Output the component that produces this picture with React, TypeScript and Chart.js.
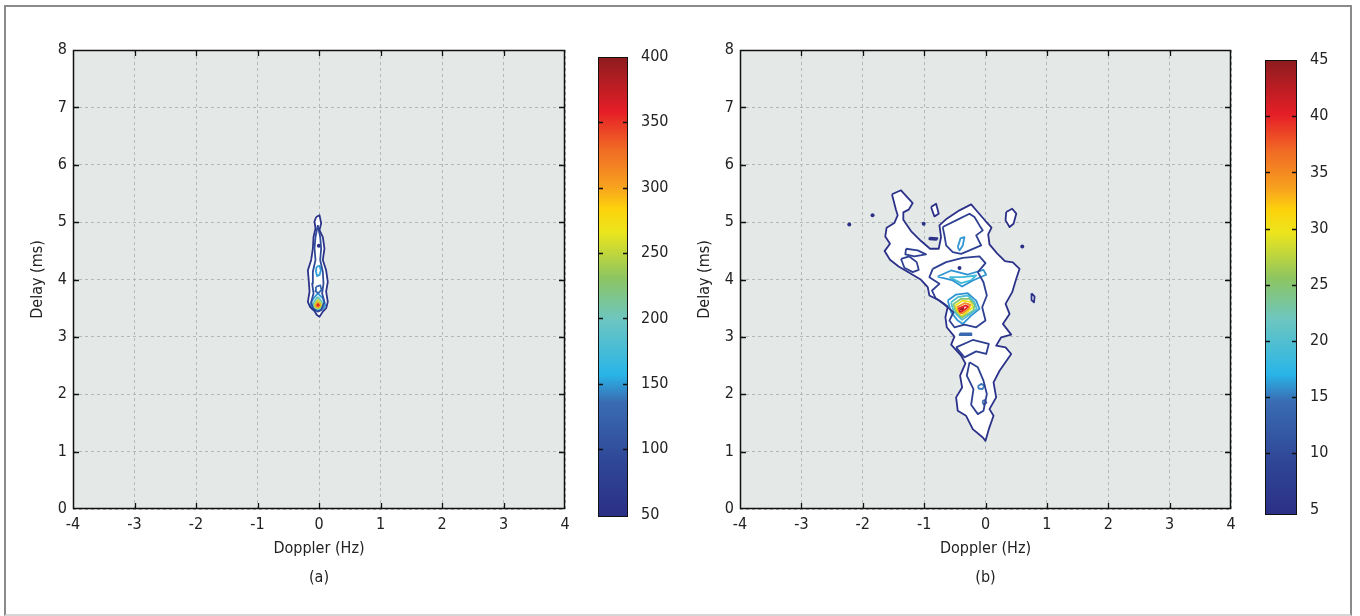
import React, { useEffect, useRef } from 'react';
import { Chart, registerables } from 'chart.js';

Chart.register(...registerables);

type Pt = [number, number];

const FONT = "'Liberation Sans Narrow', 'DejaVu Sans Condensed', 'Arial Narrow', sans-serif";
Chart.defaults.font.family = FONT;

// ---------- axes / ticks ----------
const DOPPLER_TICKS = [-4, -3, -2, -1, 0, 1, 2, 3, 4];
const DELAY_TICKS = [0, 1, 2, 3, 4, 5, 6, 7, 8];
const CBAR_A_TICKS = [50, 100, 150, 200, 250, 300, 350, 400];
const CBAR_A_RANGE: Pt = [48, 400];
const CBAR_B_TICKS = [5, 10, 15, 20, 25, 30, 35, 40, 45];
const CBAR_B_RANGE: Pt = [4.5, 45];

// ---------- colormap ----------
const JET_STOPS = [0, 0.12, 0.25, 0.31, 0.43, 0.52, 0.62, 0.67, 0.72, 0.8, 0.88, 1.0];
const JET_COLORS = ['#2b2f86', '#2f4797', '#3a6cb3', '#29b5e8', '#6dc6c0', '#8dc561', '#ece51c', '#fdd20c', '#f7a01f', '#f16a25', '#e61e27', '#8c1c1f'];

// ---------- panel (a): contour lines [doppler Hz, delay ms] ----------
const A_OUTER_55: Pt[] = [[-0.045, 5.09], [0.008, 5.12], [0.035, 4.98], [0.008, 4.86], [0.062, 4.74], [0.089, 4.54], [0.062, 4.34], [0.116, 4.16], [0.143, 3.96], [0.116, 3.79], [0.143, 3.61], [0.116, 3.5], [0.062, 3.44], [0.008, 3.35], [-0.035, 3.38], [-0.073, 3.45], [-0.143, 3.52], [-0.181, 3.61], [-0.154, 3.79], [-0.165, 3.96], [-0.181, 4.16], [-0.127, 4.34], [-0.1, 4.54], [-0.089, 4.74], [-0.057, 4.89], [-0.073, 5.01]];
const A_INNER_95: Pt[] = [[-0.019, 4.948], [0.019, 4.74], [0.035, 4.54], [0.019, 4.34], [0.062, 4.135], [0.073, 3.932], [0.051, 3.757], [0.089, 3.61], [0.035, 3.467], [-0.019, 3.44], [-0.1, 3.5], [-0.127, 3.61], [-0.089, 3.757], [-0.111, 3.932], [-0.1, 4.135], [-0.057, 4.34], [-0.073, 4.54], [-0.057, 4.74]];
const A_BLUE_UPPER_150: Pt[] = [[-0.04, 4.22], [0.01, 4.24], [0.03, 4.16], [0.01, 4.08], [-0.03, 4.06], [-0.05, 4.14]];
const A_BLUE_MID_130: Pt[] = [[-0.05, 3.87], [0.02, 3.9], [0.04, 3.82], [-0.01, 3.76], [-0.06, 3.8]];
const A_L150: Pt[] = [[-0.019, 3.757], [0.062, 3.67], [0.105, 3.554], [0.062, 3.484], [-0.019, 3.449], [-0.111, 3.484], [-0.143, 3.566], [-0.089, 3.67]];
const A_L200: Pt[] = [[-0.019, 3.7], [0.045, 3.62], [0.07, 3.55], [0.035, 3.49], [-0.019, 3.465], [-0.08, 3.49], [-0.1, 3.56], [-0.07, 3.63]];
const A_L250: Pt[] = [[-0.019, 3.65], [0.035, 3.59], [0.05, 3.55], [0.02, 3.5], [-0.019, 3.485], [-0.07, 3.51], [-0.08, 3.56], [-0.05, 3.61]];
const A_L300: Pt[] = [[-0.019, 3.61], [0.025, 3.57], [0.03, 3.54], [-0.019, 3.5], [-0.06, 3.53], [-0.055, 3.58]];
const A_L350: Pt[] = [[-0.019, 3.585], [0.012, 3.56], [-0.019, 3.52], [-0.045, 3.55]];
const A_L390: Pt[] = [[-0.019, 3.565], [0.0, 3.553], [-0.019, 3.54], [-0.035, 3.553]];
const A_DOTS: Pt[] = [[-0.003, 4.59]];

// ---------- panel (b) ----------
const B_OUTER_5: Pt[] = [[-1.524, 5.485], [-1.377, 5.555], [-1.186, 5.333], [-1.252, 5.217], [-1.339, 5.17], [-1.339, 5.042], [-1.214, 4.844], [-1.05, 4.67], [-0.903, 4.536], [-0.762, 4.536], [-0.724, 4.74], [-0.751, 4.943], [-0.631, 5.06], [-0.424, 5.205], [-0.234, 5.31], [-0.141, 5.194], [0.0, 5.019], [0.098, 4.903], [0.044, 4.786], [0.065, 4.611], [0.185, 4.46], [0.316, 4.32], [0.446, 4.297], [0.555, 4.186], [0.501, 4.012], [0.435, 3.779], [0.327, 3.575], [0.392, 3.4], [0.283, 3.226], [0.419, 3.039], [0.256, 2.993], [0.174, 2.847], [0.327, 2.818], [0.419, 2.702], [0.229, 2.41], [0.131, 2.207], [0.174, 1.945], [0.065, 1.741], [0.131, 1.624], [0.054, 1.392], [0.0, 1.188], [-0.044, 1.246], [-0.207, 1.392], [-0.316, 1.624], [-0.452, 1.712], [-0.479, 1.945], [-0.381, 2.119], [-0.414, 2.323], [-0.327, 2.539], [-0.397, 2.672], [-0.56, 2.865], [-0.506, 3.004], [-0.631, 3.167], [-0.653, 3.342], [-0.615, 3.528], [-0.751, 3.633], [-0.914, 3.721], [-0.941, 3.866], [-1.05, 3.994], [-1.214, 4.099], [-1.415, 4.227], [-1.556, 4.344], [-1.644, 4.495], [-1.556, 4.623], [-1.633, 4.751], [-1.611, 4.903], [-1.486, 4.984], [-1.431, 5.118], [-1.459, 5.217]];
const B_ISLAND_1: Pt[] = [[-0.887, 5.263], [-0.805, 5.322], [-0.762, 5.147], [-0.833, 5.1]];
const B_ISLAND_2: Pt[] = [[-0.914, 4.73], [-0.784, 4.72], [-0.8, 4.69], [-0.914, 4.7]];
const B_ISLAND_3: Pt[] = [[0.337, 5.176], [0.435, 5.234], [0.501, 5.147], [0.457, 4.972], [0.392, 4.914], [0.327, 5.031]];
const B_ISLAND_4: Pt[] = [[0.75, 3.76], [0.8, 3.7], [0.79, 3.6], [0.75, 3.64]];
const B_L9_CORE: Pt[] = [[-0.86, 4.186], [-0.642, 4.303], [-0.37, 4.378], [-0.098, 4.402], [0.0, 4.285], [-0.125, 4.128], [-0.033, 3.953], [0.022, 3.721], [-0.054, 3.517], [0.0, 3.284], [-0.152, 3.167], [-0.343, 3.214], [-0.506, 3.167], [-0.588, 3.284], [-0.522, 3.429], [-0.669, 3.563], [-0.816, 3.68], [-0.871, 3.808], [-0.751, 3.924], [-0.914, 4.041]];
const B_L9_UPPER: Pt[] = [[-0.697, 4.914], [-0.479, 5.031], [-0.261, 5.147], [-0.18, 5.089], [-0.098, 4.943], [-0.044, 4.856], [-0.152, 4.769], [-0.071, 4.594], [-0.261, 4.507], [-0.397, 4.448], [-0.533, 4.478], [-0.642, 4.594], [-0.669, 4.769]];
const B_L9_ARM_HOLE: Pt[] = [[-1.377, 4.361], [-1.241, 4.402], [-1.121, 4.303], [-1.088, 4.169], [-1.186, 4.128], [-1.322, 4.204]];
const B_L9_ARM_TOP: Pt[] = [[-1.295, 4.536], [-1.105, 4.507], [-0.969, 4.437], [-1.159, 4.402], [-1.306, 4.437]];
const B_L9_LOWER: Pt[] = [[-0.261, 2.556], [-0.125, 2.469], [-0.033, 2.236], [0.022, 2.003], [-0.033, 1.712], [-0.125, 1.654], [-0.234, 1.817], [-0.196, 2.09], [-0.305, 2.323]];
const B_L9_MID: Pt[] = [[-0.479, 2.818], [-0.207, 2.946], [0.054, 2.876], [0.011, 2.702], [-0.152, 2.748], [-0.343, 2.643]];
const B_L16_X: Pt[] = [[-0.779, 4.052], [-0.56, 4.157], [-0.289, 4.087], [-0.033, 4.169], [0.011, 4.082], [-0.207, 3.983], [-0.381, 3.878], [-0.534, 3.983]];
const B_L19_X: Pt[] = [[-0.588, 4.041], [-0.37, 4.041], [-0.152, 4.07], [-0.234, 3.983], [-0.397, 3.936]];
const B_L16_TOP: Pt[] = [[-0.452, 4.564], [-0.408, 4.716], [-0.343, 4.739], [-0.37, 4.594], [-0.424, 4.507]];
const B_L15_LOW1: Pt[] = [[-0.125, 2.14], [-0.07, 2.18], [-0.016, 2.15], [-0.05, 2.09], [-0.11, 2.1]];
const B_L14_LOW2: Pt[] = [[-0.05, 1.88], [-0.01, 1.9], [0.016, 1.85], [-0.03, 1.82]];
const B_L14_DASH: Pt[] = [[-0.42, 3.06], [-0.23, 3.06], [-0.23, 3.03], [-0.42, 3.03]];
const B_L16: Pt[] = [[-0.615, 3.633], [-0.479, 3.738], [-0.289, 3.761], [-0.152, 3.633], [-0.098, 3.488], [-0.234, 3.371], [-0.37, 3.226], [-0.452, 3.284], [-0.56, 3.429]];
const B_L20: Pt[] = [[-0.56, 3.604], [-0.452, 3.691], [-0.289, 3.721], [-0.18, 3.604], [-0.142, 3.488], [-0.261, 3.389], [-0.381, 3.296], [-0.522, 3.446]];
const B_L25: Pt[] = [[-0.522, 3.575], [-0.397, 3.663], [-0.261, 3.663], [-0.18, 3.563], [-0.196, 3.459], [-0.305, 3.389], [-0.397, 3.331], [-0.49, 3.446]];
const B_L30: Pt[] = [[-0.49, 3.546], [-0.37, 3.633], [-0.234, 3.604], [-0.207, 3.517], [-0.305, 3.429], [-0.397, 3.354], [-0.468, 3.446]];
const B_L35: Pt[] = [[-0.468, 3.517], [-0.343, 3.587], [-0.25, 3.563], [-0.272, 3.488], [-0.37, 3.412], [-0.436, 3.4]];
const B_L40: Pt[] = [[-0.452, 3.488], [-0.327, 3.546], [-0.272, 3.528], [-0.359, 3.459], [-0.424, 3.412]];
const B_L43: Pt[] = [[-0.424, 3.471], [-0.359, 3.506], [-0.381, 3.446], [-0.414, 3.429]];
const B_DOTS: Pt[] = [[-2.22, 4.96], [-1.84, 5.12], [-1.007, 4.97], [0.599, 4.577], [-0.424, 4.2]];

type Contour = { level: number; pts: Pt[]; fill?: boolean };

const A_CONTOURS: Contour[] = [
  { level: 55, pts: A_OUTER_55, fill: true },
  { level: 95, pts: A_INNER_95 },
  { level: 150, pts: A_BLUE_UPPER_150 },
  { level: 130, pts: A_BLUE_MID_130 },
  { level: 150, pts: A_L150 },
  { level: 200, pts: A_L200 },
  { level: 250, pts: A_L250 },
  { level: 300, pts: A_L300 },
  { level: 350, pts: A_L350 },
  { level: 390, pts: A_L390 },
];

const B_CONTOURS: Contour[] = [
  { level: 5, pts: B_OUTER_5, fill: true },
  { level: 5, pts: B_ISLAND_1, fill: true },
  { level: 5, pts: B_ISLAND_2, fill: true },
  { level: 5, pts: B_ISLAND_3, fill: true },
  { level: 5, pts: B_ISLAND_4, fill: true },
  { level: 8, pts: B_L9_CORE },
  { level: 8, pts: B_L9_UPPER },
  { level: 8, pts: B_L9_ARM_HOLE },
  { level: 8, pts: B_L9_ARM_TOP },
  { level: 8, pts: B_L9_LOWER },
  { level: 8, pts: B_L9_MID },
  { level: 16, pts: B_L16_X },
  { level: 19, pts: B_L19_X },
  { level: 16, pts: B_L16_TOP },
  { level: 15, pts: B_L15_LOW1 },
  { level: 14, pts: B_L14_LOW2 },
  { level: 14, pts: B_L14_DASH },
  { level: 16, pts: B_L16 },
  { level: 20, pts: B_L20 },
  { level: 25, pts: B_L25 },
  { level: 30, pts: B_L30 },
  { level: 35, pts: B_L35 },
  { level: 40, pts: B_L40 },
  { level: 43.5, pts: B_L43 },
];

// ---------- helpers ----------
function hexToRgb(h: string) {
  const n = parseInt(h.slice(1), 16);
  return [(n >> 16) & 255, (n >> 8) & 255, n & 255];
}
function jet(f: number) {
  const t = Math.max(0, Math.min(1, f));
  for (let i = 0; i < JET_STOPS.length - 1; i++) {
    if (t <= JET_STOPS[i + 1]) {
      const u = (t - JET_STOPS[i]) / (JET_STOPS[i + 1] - JET_STOPS[i]);
      const a = hexToRgb(JET_COLORS[i]);
      const b = hexToRgb(JET_COLORS[i + 1]);
      const c = a.map((v, k) => Math.round(v + (b[k] - v) * u));
      return `rgb(${c[0]},${c[1]},${c[2]})`;
    }
  }
  return JET_COLORS[JET_COLORS.length - 1];
}

const TICK_FONT = { family: FONT, size: 16 };
const TEXT_COLOR = '#222';
const GRID_COLOR = '#b3b8b8';

const plotDecor = {
  id: 'plotDecor',
  beforeDraw(chart: any) {
    const { ctx, chartArea: a } = chart;
    ctx.save();
    ctx.fillStyle = '#e4e9e8';
    ctx.fillRect(a.left, a.top, a.right - a.left, a.bottom - a.top);
    ctx.restore();
  },
  afterDraw(chart: any, _args: any, opts: any) {
    const { ctx, chartArea: a, scales } = chart;
    ctx.save();
    ctx.strokeStyle = '#111';
    ctx.lineWidth = 1.3;
    ctx.beginPath();
    scales.x.ticks.forEach((t: any) => {
      const x = Math.round(scales.x.getPixelForValue(t.value)) + 0.5;
      if (x <= a.left + 2 || x >= a.right - 2) return;
      ctx.moveTo(x, a.bottom); ctx.lineTo(x, a.bottom - 6);
      ctx.moveTo(x, a.top); ctx.lineTo(x, a.top + 6);
    });
    scales.y.ticks.forEach((t: any) => {
      const y = Math.round(scales.y.getPixelForValue(t.value)) + 0.5;
      if (y <= a.top + 2 || y >= a.bottom - 2) return;
      ctx.moveTo(a.left, y); ctx.lineTo(a.left + 6, y);
      ctx.moveTo(a.right, y); ctx.lineTo(a.right - 6, y);
    });
    ctx.stroke();
    ctx.lineWidth = 1.5;
    ctx.strokeRect(a.left + 0.5, a.top + 0.5, a.right - a.left - 1, a.bottom - a.top - 1);
    ctx.fillStyle = TEXT_COLOR;
    ctx.font = `16px ${FONT}`;
    ctx.textAlign = 'center';
    ctx.textBaseline = 'middle';
    const cx = (a.left + a.right) / 2;
    ctx.fillText(opts.xTitle, cx, a.bottom + 40);
    ctx.fillText(opts.caption, cx, a.bottom + 69);
    ctx.translate(a.left - 35, (a.top + a.bottom) / 2);
    ctx.rotate(-Math.PI / 2);
    ctx.fillText(opts.yTitle, 0, 0);
    ctx.restore();
  },
};

const cbTicks = {
  id: 'cbTicks',
  afterDraw(chart: any) {
    const { ctx, chartArea: a, scales } = chart;
    const ticks = scales.y.ticks;
    ctx.save();
    ctx.strokeStyle = '#111';
    ctx.lineWidth = 1.3;
    ctx.beginPath();
    ticks.forEach((t: any, i: number) => {
      if (i === 0 || i === ticks.length - 1) return;
      const y = Math.round(scales.y.getPixelForValue(t.value)) + 0.5;
      ctx.moveTo(a.left, y); ctx.lineTo(a.left + 5, y);
      ctx.moveTo(a.right, y); ctx.lineTo(a.right - 5, y);
    });
    ctx.stroke();
    ctx.restore();
  },
};

function panelConfig(contours: Contour[], dots: Pt[], range: Pt, pad: any, caption: string): any {
  const [cmin, cmax] = range;
  const datasets: any[] = contours.map((c) => ({
    data: [...c.pts, c.pts[0]].map(([x, y]) => ({ x, y })),
    showLine: true,
    pointRadius: 0,
    borderWidth: 1.8,
    borderColor: jet((c.level - cmin) / (cmax - cmin)),
    backgroundColor: '#ffffff',
    fill: c.fill ? 'shape' : false,
    tension: 0,
    borderJoinStyle: 'round',
  }));
  datasets.push({
    data: dots.map(([x, y]) => ({ x, y })),
    showLine: false,
    pointRadius: 2,
    pointBorderWidth: 0,
    pointBackgroundColor: jet(0),
  });
  return {
    type: 'scatter',
    data: { datasets },
    options: {
      responsive: false,
      animation: false,
      devicePixelRatio: 1,
      events: [],
      layout: { padding: pad },
      plugins: {
        legend: { display: false },
        tooltip: { enabled: false },
        filler: { drawTime: 'beforeDatasetsDraw' },
        plotDecor: { xTitle: 'Doppler (Hz)', yTitle: 'Delay (ms)', caption },
      },
      scales: {
        x: {
          type: 'linear',
          min: DOPPLER_TICKS[0],
          max: DOPPLER_TICKS[DOPPLER_TICKS.length - 1],
          afterBuildTicks: (s: any) => { s.ticks = DOPPLER_TICKS.map((v) => ({ value: v })); },
          afterFit: (s: any) => { s.height = 30; },
          grid: { color: GRID_COLOR, lineWidth: 1, drawTicks: false },
          border: { display: false, dash: [3, 3] },
          ticks: { padding: 6, color: TEXT_COLOR, font: TICK_FONT, maxRotation: 0 },
        },
        y: {
          type: 'linear',
          min: DELAY_TICKS[0],
          max: DELAY_TICKS[DELAY_TICKS.length - 1],
          afterBuildTicks: (s: any) => { s.ticks = DELAY_TICKS.map((v) => ({ value: v })); },
          afterFit: (s: any) => { s.width = 30; },
          grid: { color: GRID_COLOR, lineWidth: 1, drawTicks: false },
          border: { display: false, dash: [3, 3] },
          ticks: { padding: 6, color: TEXT_COLOR, font: TICK_FONT },
        },
      },
    },
    plugins: [plotDecor],
  };
}

function colorbarConfig(range: Pt, ticks: number[], pad: any): any {
  return {
    type: 'bar',
    data: {
      labels: [''],
      datasets: [
        {
          data: [[range[0], range[1]]],
          backgroundColor: (c: any) => {
            const chart = c.chart;
            if (!chart.chartArea) return JET_COLORS[0];
            const ys = chart.scales.y;
            const g = chart.ctx.createLinearGradient(0, ys.getPixelForValue(range[0]), 0, ys.getPixelForValue(range[1]));
            JET_STOPS.forEach((s, i) => g.addColorStop(s, JET_COLORS[i]));
            return g;
          },
          borderColor: '#111',
          borderWidth: 1.3,
          borderSkipped: false,
          barPercentage: 1,
          categoryPercentage: 1,
        },
      ],
    },
    options: {
      responsive: false,
      animation: false,
      devicePixelRatio: 1,
      events: [],
      layout: { padding: pad },
      plugins: { legend: { display: false }, tooltip: { enabled: false } },
      scales: {
        x: { display: false },
        y: {
          position: 'right',
          min: range[0],
          max: range[1],
          afterBuildTicks: (s: any) => { s.ticks = ticks.map((v) => ({ value: v })); },
          afterFit: (s: any) => { s.width = 40; },
          grid: { display: false },
          border: { display: false },
          ticks: { padding: 5, color: TEXT_COLOR, font: TICK_FONT },
        },
      },
    },
    plugins: [cbTicks],
  };
}

function ChartCanvas({ left, width, height = 616, make }: { left: number; width: number; height?: number; make: () => any }) {
  const ref = useRef<HTMLCanvasElement>(null);
  useEffect(() => {
    const chart = new Chart(ref.current as HTMLCanvasElement, make());
    return () => chart.destroy();
  }, []);
  return <canvas ref={ref} width={width} height={height} style={{ position: 'absolute', left, top: 0, width, height }} />;
}

export default function App() {
  return (
    <div style={{ position: 'fixed', left: 0, top: 0, width: 1360, height: 616, background: '#fff', overflow: 'hidden' }}>
      <div
        style={{
          position: 'absolute', left: 4, top: 5, width: 1348, height: 611, boxSizing: 'border-box',
          borderTop: '2px solid #8a8a8a', borderLeft: '2px solid #8a8a8a', borderRight: '2px solid #8a8a8a', borderBottom: '2px solid #d6d6d6',
        }}
      />
      <ChartCanvas left={0} width={585} make={() => panelConfig(A_CONTOURS, A_DOTS, CBAR_A_RANGE, { left: 43, top: 50, right: 20, bottom: 77 }, '(a)')} />
      <ChartCanvas left={585} width={83} make={() => colorbarConfig(CBAR_A_RANGE, CBAR_A_TICKS, { left: 13, top: 57, right: 0, bottom: 99 })} />
      <ChartCanvas left={668} width={582} make={() => panelConfig(B_CONTOURS, B_DOTS, CBAR_B_RANGE, { left: 42, top: 50, right: 19, bottom: 77 }, '(b)')} />
      <ChartCanvas left={1250} width={87} make={() => colorbarConfig(CBAR_B_RANGE, CBAR_B_TICKS, { left: 15, top: 60, right: 0, bottom: 101 })} />
    </div>
  );
}
